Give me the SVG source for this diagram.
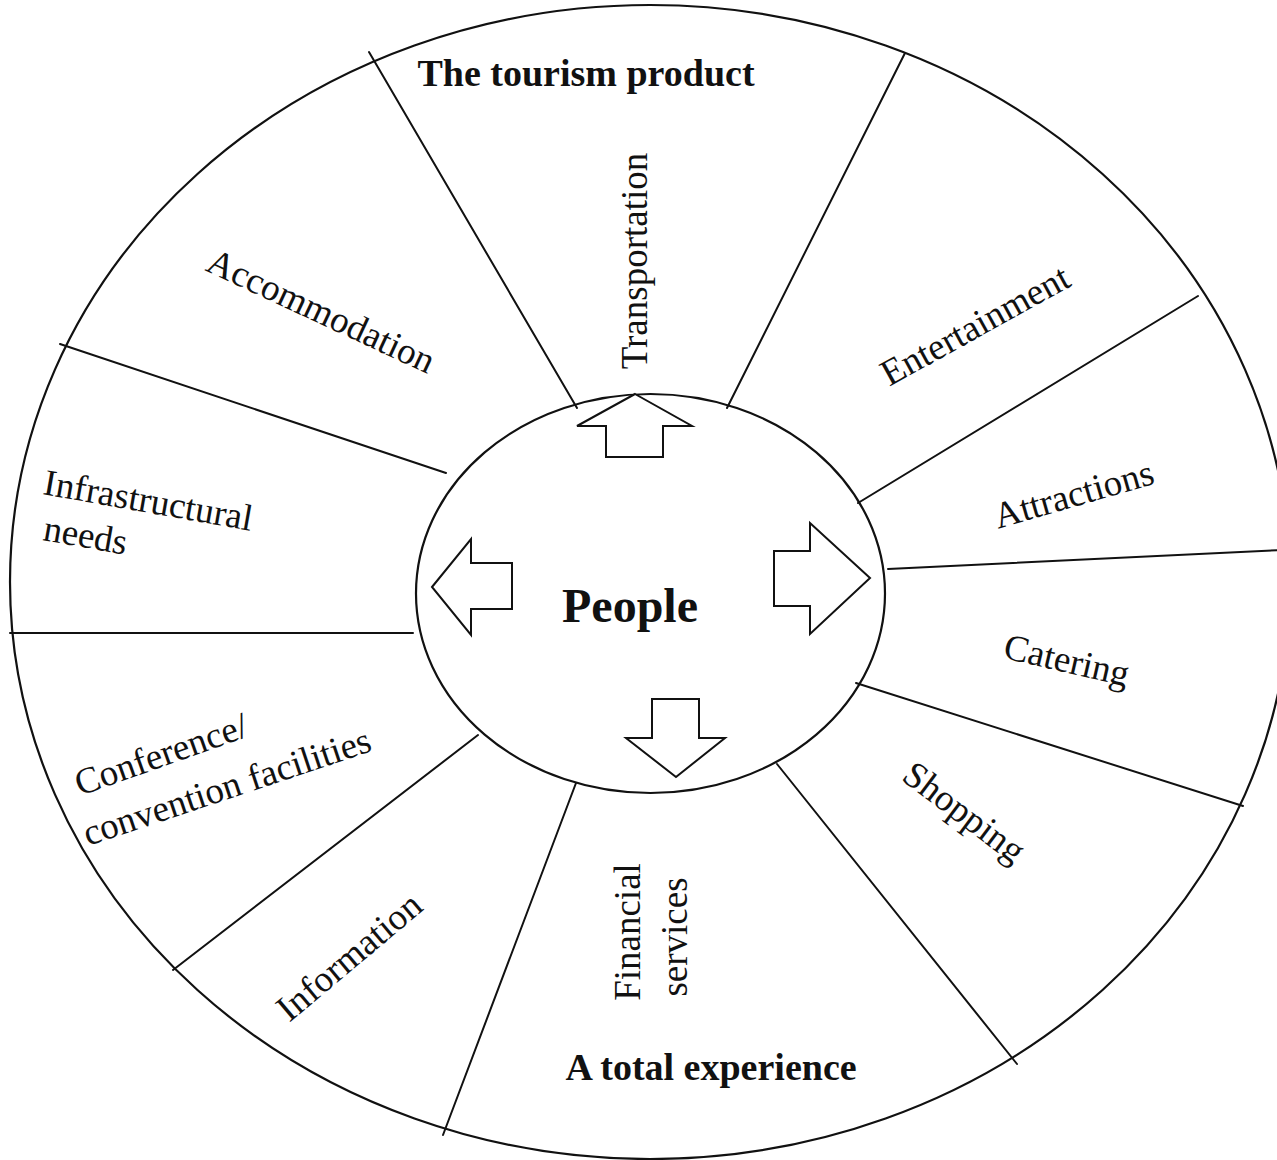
<svg xmlns="http://www.w3.org/2000/svg" width="1277" height="1160" viewBox="0 0 1277 1160">
  <style>
    .ring { fill: none; stroke: #111; stroke-width: 2.2; }
    .div { stroke: #111; stroke-width: 2; fill: none; stroke-linecap: round; }
    .arrow { fill: #fff; stroke: #111; stroke-width: 2; stroke-linejoin: miter; }
    .lbl { font-family: "Liberation Serif", "Times New Roman", serif; font-size: 37px; fill: #111; }
    .head { font-family: "Liberation Serif", "Times New Roman", serif; font-size: 38px; font-weight: bold; fill: #111; text-anchor: middle; }
  </style>
  <rect width="1277" height="1160" fill="#fff"/>

  <!-- outer wheel -->
  <ellipse class="ring" cx="650" cy="582" rx="640" ry="577"/>

  <!-- spokes separating the segments -->
  <g id="connectors">
    <line class="div" x1="369" y1="52" x2="577" y2="408"/>
    <line class="div" x1="905" y1="53" x2="727" y2="408"/>
    <line class="div" x1="1198" y1="296" x2="858" y2="503"/>
    <line class="div" x1="1280" y1="550" x2="888" y2="569"/>
    <line class="div" x1="1243" y1="806" x2="856" y2="683"/>
    <line class="div" x1="1017" y1="1064" x2="777" y2="764"/>
    <line class="div" x1="443" y1="1135" x2="576" y2="783"/>
    <line class="div" x1="173" y1="970" x2="478" y2="735"/>
    <line class="div" x1="10" y1="633" x2="413" y2="633"/>
    <line class="div" x1="60" y1="344" x2="446" y2="473"/>
  </g>

  <!-- hub -->
  <g id="people">
    <ellipse class="ring" cx="650.5" cy="593.5" rx="234.5" ry="199.5"/>
    <polygon class="arrow" points="635,394 692,426 663,426 663,457 606,457 606,426 577,426"/>
    <polygon class="arrow" points="432,587 471,539 471,563 512,563 512,609 471,609 471,635"/>
    <polygon class="arrow" points="870,578 810,523 810,551 774,551 774,606 810,606 810,634"/>
    <polygon class="arrow" points="676,777 725,738 699,738 699,699 652,699 652,738 626,738"/>
    <text class="head" x="630" y="622" style="font-size:48px">People</text>
  </g>

  <g id="title"><text class="head" x="586" y="86">The tourism product</text></g>
  <g id="subtitle"><text class="head" x="711" y="1080">A total experience</text></g>

  <g id="transportation"><text class="lbl" text-anchor="middle" transform="translate(647,261) rotate(-90)">Transportation</text></g>
  <g id="entertainment"><text class="lbl" text-anchor="middle" transform="translate(981,336) rotate(-29)">Entertainment</text></g>
  <g id="attractions"><text class="lbl" text-anchor="middle" transform="translate(1077,506) rotate(-16)">Attractions</text></g>
  <g id="catering"><text class="lbl" text-anchor="middle" transform="translate(1064,672) rotate(13)">Catering</text></g>
  <g id="shopping"><text class="lbl" text-anchor="middle" transform="translate(957,822) rotate(37)">Shopping</text></g>
  <g id="financial"><text class="lbl" text-anchor="middle" transform="translate(640,932) rotate(-90)">Financial</text><text class="lbl" text-anchor="middle" transform="translate(687,937) rotate(-90)">services</text></g>
  <g id="information"><text class="lbl" text-anchor="middle" transform="translate(357,966) rotate(-40)">Information</text></g>
  <g id="conference"><text class="lbl" transform="translate(80,796) rotate(-19.5)">Conference/</text><text class="lbl" transform="translate(88,846) rotate(-18.5)">convention facilities</text></g>
  <g id="infrastructure"><text class="lbl" transform="translate(42,494) rotate(10)">Infrastructural</text><text class="lbl" transform="translate(42,540) rotate(10)">needs</text></g>
  <g id="accommodation"><text class="lbl" text-anchor="middle" transform="translate(316,322) rotate(25)">Accommodation</text></g>
</svg>
